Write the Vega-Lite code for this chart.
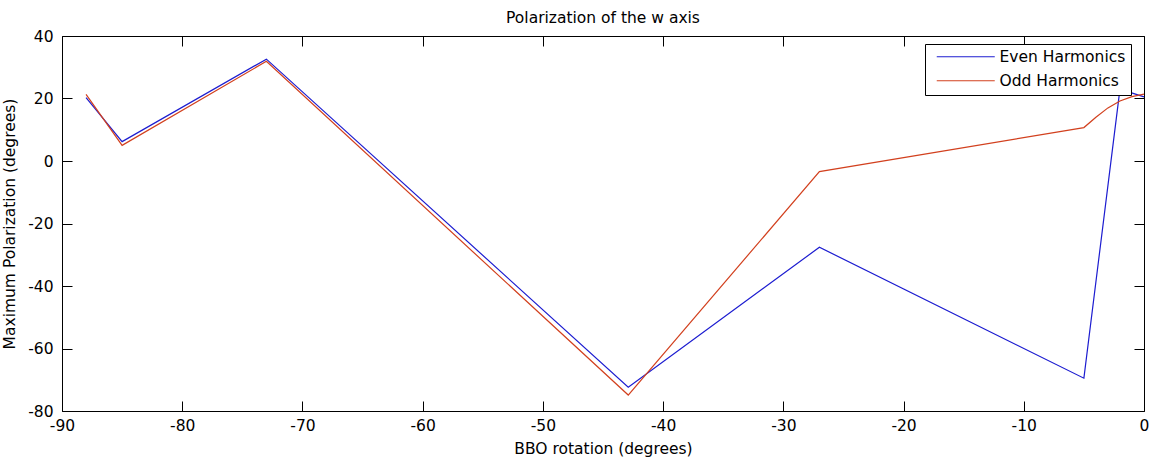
{
  "$schema": "https://vega.github.io/schema/vega-lite/v6.json",
  "width": 1082,
  "height": 375,
  "autosize": {"type": "none"},
  "padding": {"left": 62, "top": 36, "right": 10, "bottom": 48},
  "background": "white",
  "title": {"text": "Polarization of the w axis", "font": "DejaVu Sans", "fontSize": 15.5, "fontWeight": "normal", "color": "black", "anchor": "middle", "offset": 3},
  "data": {"values": [
    {"series": "Even Harmonics", "x": -88, "y": 20.3},
    {"series": "Even Harmonics", "x": -85, "y": 6.2},
    {"series": "Even Harmonics", "x": -73, "y": 32.6},
    {"series": "Even Harmonics", "x": -42.9, "y": -72.4},
    {"series": "Even Harmonics", "x": -27, "y": -27.6},
    {"series": "Even Harmonics", "x": -5, "y": -69.5},
    {"series": "Even Harmonics", "x": -2, "y": 23},
    {"series": "Even Harmonics", "x": 0, "y": 20.5},
    {"series": "Odd Harmonics", "x": -88, "y": 21.3},
    {"series": "Odd Harmonics", "x": -85, "y": 5.0},
    {"series": "Odd Harmonics", "x": -73, "y": 31.9},
    {"series": "Odd Harmonics", "x": -42.9, "y": -74.9},
    {"series": "Odd Harmonics", "x": -27, "y": -3.4},
    {"series": "Odd Harmonics", "x": -5, "y": 10.7},
    {"series": "Odd Harmonics", "x": -4, "y": 14},
    {"series": "Odd Harmonics", "x": -3, "y": 17},
    {"series": "Odd Harmonics", "x": -2, "y": 19.2},
    {"series": "Odd Harmonics", "x": -1, "y": 20.6},
    {"series": "Odd Harmonics", "x": 0, "y": 21.4}
  ]},
  "config": {
    "view": {"stroke": null},
    "axis": {"grid": false, "domainColor": "black", "domainWidth": 1, "tickColor": "black", "tickWidth": 1, "labelColor": "black", "labelFont": "DejaVu Sans", "labelFontSize": 15.5, "titleFont": "DejaVu Sans", "titleFontSize": 15.5, "titleFontWeight": "normal", "titleColor": "black"}
  },
  "layer": [
    {
      "transform": [{"filter": "datum.series === 'Even Harmonics'"}],
      "mark": {"type": "line", "strokeWidth": 1.2},
      "encoding": {
        "x": {"field": "x", "type": "quantitative", "scale": {"domain": [-90, 0], "nice": false, "zero": false},
          "axis": {"orient": "bottom", "values": [-90, -80, -70, -60, -50, -40, -30, -20, -10, 0], "labelExpr": "toString(datum.value)", "title": "BBO rotation (degrees)", "tickSize": -10, "labelPadding": 17, "titlePadding": 8, "labelFlush": false}},
        "y": {"field": "y", "type": "quantitative", "scale": {"domain": [-80, 40], "nice": false, "zero": false},
          "axis": {"orient": "left", "values": [-80, -60, -40, -20, 0, 20, 40], "labelExpr": "toString(datum.value)", "title": "Maximum Polarization (degrees)", "tickSize": -10, "labelPadding": 19, "titlePadding": 10}},
        "color": {"field": "series", "type": "nominal",
          "scale": {"domain": ["Even Harmonics", "Odd Harmonics"], "range": ["#1c1cd0", "#d2401e"]},
          "legend": {"title": null, "orient": "none", "legendX": 863, "legendY": 8, "symbolType": "M-5,0H5", "symbolSize": 134.56, "symbolStrokeWidth": 1.2, "symbolOffset": 28, "labelOffset": 26, "labelFont": "DejaVu Sans", "labelFontSize": 15.5, "labelColor": "black", "rowPadding": 7, "padding": 5, "strokeColor": "black", "fillColor": "white", "cornerRadius": 0}}
      }
    },
    {
      "transform": [{"filter": "datum.series === 'Odd Harmonics'"}],
      "mark": {"type": "line", "strokeWidth": 1.2},
      "encoding": {
        "x": {"field": "x", "type": "quantitative",
          "axis": {"orient": "top", "values": [-90, -80, -70, -60, -50, -40, -30, -20, -10, 0], "title": null, "labels": false, "tickSize": -10}},
        "y": {"field": "y", "type": "quantitative",
          "axis": {"orient": "right", "values": [-80, -60, -40, -20, 0, 20, 40], "title": null, "labels": false, "tickSize": -10}},
        "color": {"field": "series", "type": "nominal"}
      }
    }
  ],
  "resolve": {"axis": {"x": "independent", "y": "independent"}}
}
